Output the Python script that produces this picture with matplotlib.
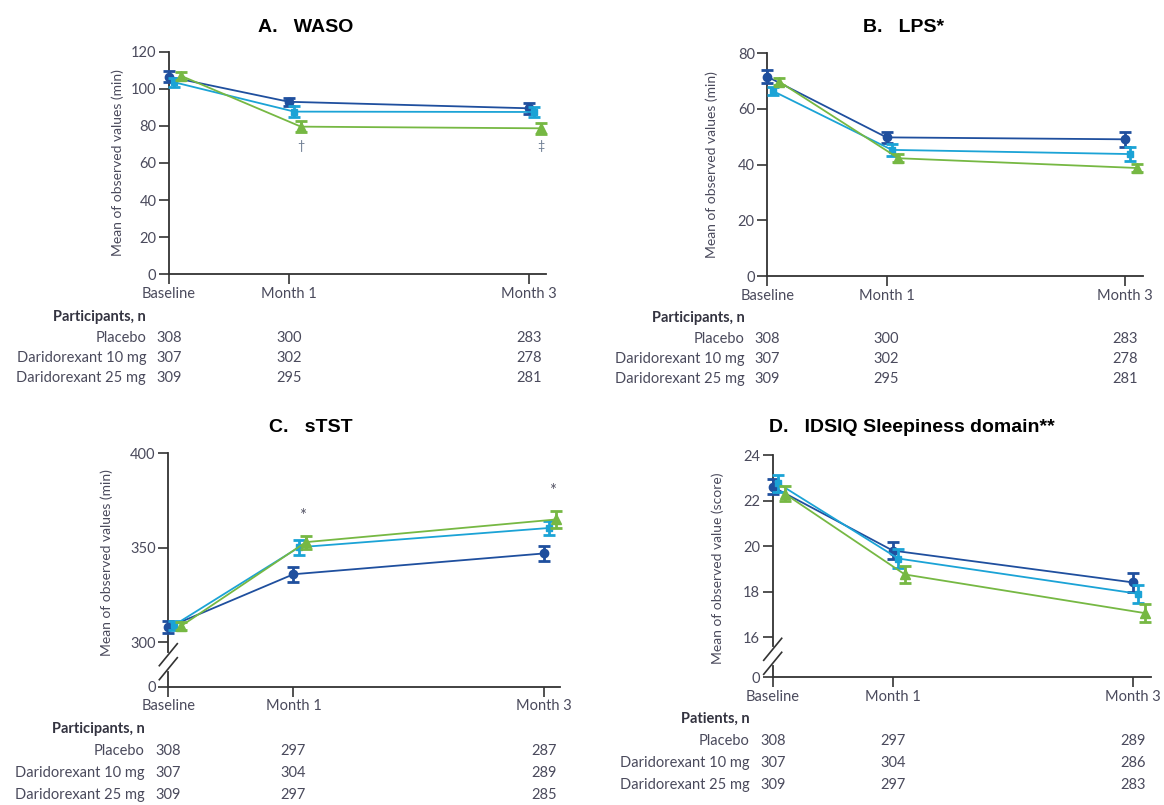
import numpy as np
import matplotlib
matplotlib.use('Agg')
import matplotlib.pyplot as plt
from matplotlib import transforms

plt.rcParams['font.family'] = ['Lato', 'DejaVu Sans']

# dados
months = [0, 1, 3]
month_labels = ['Baseline', 'Month 1', 'Month 3']
groups = ['Placebo', 'Daridorexant 10 mg', 'Daridorexant 25 mg']

waso_mean = [[106.5, 93, 89.5], [103.5, 87.7, 87.5], [107, 79.6, 78.7]]
waso_err = [[3, 2.3, 3], [2.5, 3, 2.9], [2, 2.9, 3]]

lps_mean = [[71.6, 49.8, 49.1], [66.5, 45.3, 43.8], [69.8, 42.3, 38.8]]
lps_err = [[2.4, 2.1, 2.7], [1.5, 2.2, 2.4], [1.2, 1.5, 1.6]]

stst_mean = [[308, 336, 347], [309, 350.3, 360.5], [308.5, 353, 365]]
stst_err = [[3, 4, 3.9], [2.5, 3.9, 3.7], [2, 3.5, 4.5]]

idsiq_mean = [[22.6, 19.8, 18.4], [22.75, 19.45, 17.9], [22.3, 18.75, 17.05]]
idsiq_err = [[0.33, 0.37, 0.42], [0.37, 0.4, 0.39], [0.33, 0.37, 0.39]]

n_ab = [[308, 300, 283], [307, 302, 278], [309, 295, 281]]
n_c = [[308, 297, 287], [307, 304, 289], [309, 297, 285]]
n_d = [[308, 297, 289], [307, 304, 286], [309, 297, 283]]

colors = ['#1f4f9e', '#1ba3d6', '#76b843']
markers = ['o', 's', '^']
msizes = [6, 5, 6.5]
offsets = [0, 0.045, 0.1]
txt_color = '#4a4a5c'

W, H = 1164, 805
fig = plt.figure(figsize=(W / 100, H / 100), dpi=100)


def axes_px(left, right, top, bottom):
    return fig.add_axes([left / W, 1 - bottom / H, (right - left) / W, (bottom - top) / H])


def broken_scale(lo, span):
    def fwd(y):
        y = np.asarray(y, dtype=float)
        return np.where(y >= lo, y - lo + span, y * span / lo)

    def inv(u):
        u = np.asarray(u, dtype=float)
        return np.where(u >= span, u + lo - span, u * lo / span)
    return fwd, inv


def panel(ax, means, errs, yticks, ylabel, xlim, label_x, label_y=0.5, scale=None):
    if scale is not None:
        ax.set_yscale('function', functions=scale)
    for i in range(3):
        x = np.array(months) + offsets[i]
        ax.errorbar(x, means[i], yerr=errs[i], color=colors[i], marker=markers[i],
                    ms=msizes[i], lw=1.3, elinewidth=2, capsize=4.5, capthick=2,
                    clip_on=False, zorder=3 + i)
    ax.set_xlim(*xlim)
    ax.set_ylim(yticks[0], yticks[-1])
    ax.set_yticks(yticks)
    ax.set_xticks(months)
    ax.set_xticklabels(month_labels)
    for s in ['top', 'right']:
        ax.spines[s].set_visible(False)
    for s in ['left', 'bottom']:
        ax.spines[s].set_color('#333333')
        ax.spines[s].set_linewidth(1.3)
    ax.tick_params(direction='out', length=7, width=1.2, color='#333333',
                   labelsize=10.5, labelcolor=txt_color, pad=2)
    ax.set_ylabel(ylabel, fontsize=10, color=txt_color)
    ax.yaxis.set_label_coords(label_x, label_y)


def break_marks(ax, y0, y1):
    # marcas de quebra no eixo y (pixels a partir da base do eixo)
    pos = ax.get_position()
    wpx, hpx = pos.width * W, pos.height * H
    ax.plot([0, 0], [y0 / hpx, y1 / hpx], color='white', lw=3, transform=ax.transAxes,
            clip_on=False, zorder=10)
    for yc in (y0, y1):
        ax.plot([-9 / wpx, 9 / wpx], [(yc - 11) / hpx, (yc + 11) / hpx], color='#333333',
                lw=1.2, transform=ax.transAxes, clip_on=False, zorder=11)


def table(ax, counts, header, ys, label_dx=-0.19):
    tr = transforms.blended_transform_factory(ax.transData, fig.transFigure)
    ax.text(label_dx, 1 - ys[0] / H, header, transform=tr, ha='right', va='center',
            fontsize=10.5, fontweight='bold', color='#333340')
    for i in range(3):
        y = 1 - ys[i + 1] / H
        ax.text(label_dx, y, groups[i], transform=tr, ha='right', va='center',
                fontsize=10.5, color=txt_color)
        for j in range(3):
            ax.text(months[j], y, str(counts[i][j]), transform=tr, ha='center',
                    va='center', fontsize=10.5, color=txt_color)


title_kw = dict(ha='center', va='center', fontsize=14, fontweight='bold',
                family='Liberation Sans', color='black')

# A. WASO
axA = axes_px(169, 546, 51.7, 274.3)
panel(axA, waso_mean, waso_err, [0, 20, 40, 60, 80, 100, 120],
      'Mean of observed values (min)', (0, 3.145), -0.12)
axA.text(1 + offsets[2], 69, '†', ha='center', va='center', fontsize=9, color='#6a7a90')
axA.text(3 + offsets[2], 69, '‡', ha='center', va='center', fontsize=9, color='#6a7a90')
table(axA, n_ab, 'Participants, n', [317, 338, 358, 378])
fig.text(306 / W, 1 - 27 / H, 'A.   WASO', **title_kw)

# B. LPS
axB = axes_px(767.3, 1143, 53.3, 276)
panel(axB, lps_mean, lps_err, [0, 20, 40, 60, 80],
      'Mean of observed values (min)', (0, 3.15), -0.13)
table(axB, n_ab, 'Participants, n', [318, 339, 359, 379])
fig.text(904 / W, 1 - 27 / H, 'B.   LPS*', **title_kw)

# C. sTST (eixo quebrado entre 0 e 300)
axC = axes_px(168.3, 560, 453.3, 686.7)
panel(axC, stst_mean, stst_err, [0, 300, 350, 400],
      'Mean of observed values (min)', (0, 3.13), -0.14, 0.53,
      scale=broken_scale(300, 23.5))
break_marks(axC, 18, 32)
axC.text(1 + 0.07, 367, '*', ha='center', va='center', fontsize=12, color='#555566')
axC.text(3 + 0.07, 380, '*', ha='center', va='center', fontsize=12, color='#555566')
table(axC, n_c, 'Participants, n', [729, 751, 773, 795])
fig.text(311 / W, 1 - 427 / H, 'C.   sTST', **title_kw)

# D. IDSIQ (eixo quebrado entre 0 e 16)
axD = axes_px(772.7, 1151, 455, 677.3)
panel(axD, idsiq_mean, idsiq_err, [0, 16, 18, 20, 22, 24],
      'Mean of observed value (score)', (0, 3.15), -0.13, 0.49,
      scale=broken_scale(16, 1.77))
break_marks(axD, 14, 28)
table(axD, n_d, 'Patients, n', [719, 741, 763, 785])
fig.text(912 / W, 1 - 427 / H, 'D.   IDSIQ Sleepiness domain**', **title_kw)

fig.savefig('out.png', dpi=100)
